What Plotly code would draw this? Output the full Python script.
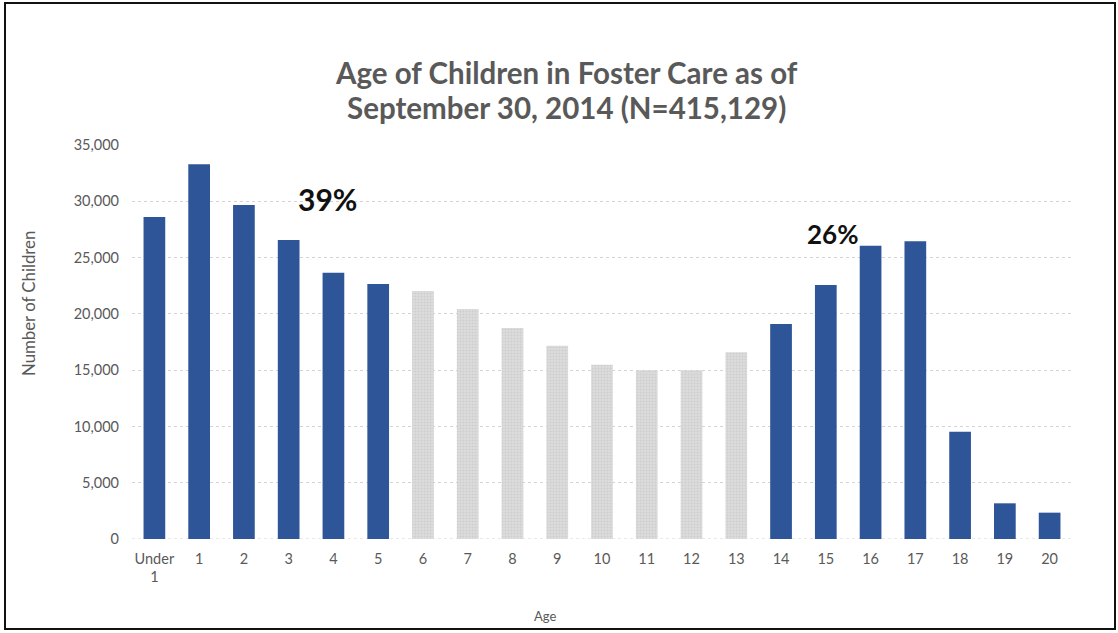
import plotly.graph_objects as go

# Children in foster care by age, September 30, 2014
ages = ["Under<br>1", "1", "2", "3", "4", "5", "6", "7", "8", "9", "10",
        "11", "12", "13", "14", "15", "16", "17", "18", "19", "20"]
children = [28600, 33300, 29660, 26550, 23650, 22650, 22030, 20430, 18740,
            17170, 15480, 14980, 14980, 16580, 19090, 22560, 26050, 26440,
            9530, 3170, 2340]
# highlighted age groups (0-5 and 14-20)
highlight = [True] * 6 + [False] * 8 + [True] * 7

y_ticks = [0, 5000, 10000, 15000, 20000, 25000, 30000, 35000]

title_lines = ["Age of Children in Foster Care as of",
               "September 30, 2014 (N=415,129)"]

BLUE = "#2E5597"
GRAY_BG = "#dcdcdc"
GRAY_DOT = "#bdbdbd"
TEXT = "#595959"
FONT = "Lato"

W, H = 1118, 633
L, R, T, B = 132, 46, 145, 94
PW, PH = W - L - R, H - T - B


def px_to_paper(px, py):
    """Convert page pixel position to plot-area paper coordinates."""
    return (px - L) / PW, (H - B - py) / PH


x_idx = list(range(len(ages)))
hi_x = [i for i in x_idx if highlight[i]]
lo_x = [i for i in x_idx if not highlight[i]]

fig = go.Figure()
fig.add_trace(go.Bar(
    x=hi_x, y=[children[i] for i in hi_x],
    marker=dict(color=BLUE, line=dict(width=0)),
    width=0.485, showlegend=False,
))
fig.add_trace(go.Bar(
    x=lo_x, y=[children[i] for i in lo_x],
    marker=dict(color=GRAY_BG, line=dict(width=0),
                pattern=dict(shape=".", fgcolor=GRAY_DOT, bgcolor=GRAY_BG,
                             size=3, solidity=0.35)),
    width=0.485, showlegend=False,
))


def label(text, px, py, size, color=TEXT, bold=False, angle=0):
    x, y = px_to_paper(px, py)
    return dict(text=text, x=x, y=y, xref="paper", yref="paper",
                xanchor="center", yanchor="middle", showarrow=False,
                textangle=angle,
                font=dict(family=FONT, size=size, color=color,
                          weight="bold" if bold else "normal"))


annotations = [
    label(title_lines[0], 566, 72, 29.5, bold=True),
    label(title_lines[1], 566, 107, 29.5, bold=True),
    label("39%", 327, 199, 30, color="#111111", bold=True),
    label("26%", 832, 234, 26, color="#111111", bold=True),
    label("Number of Children", 28, 304, 16.8, angle=-90),
    label("Age", 545, 616, 13),
]

fx0, fy0 = px_to_paper(5, 629)
fx1, fy1 = px_to_paper(1115, 3)

fig.update_layout(
    width=W, height=H,
    margin=dict(l=L, r=R, t=T, b=B),
    paper_bgcolor="white", plot_bgcolor="white",
    barmode="overlay",
    font=dict(family=FONT, color=TEXT, size=14.5),
    xaxis=dict(
        tickmode="array", tickvals=x_idx, ticktext=ages,
        range=[-0.5, len(ages) - 0.5],
        showgrid=False, zeroline=False, showline=False, ticks="",
        ticklabelstandoff=9,
        tickfont=dict(size=14.5, color=TEXT),
    ),
    yaxis=dict(
        range=[0, 35000], tickvals=y_ticks, tickformat=",",
        showgrid=True, gridcolor="#d4d4d4", griddash="dot", gridwidth=1,
        zeroline=False, showline=False, ticks="",
        ticklabelstandoff=12,
        tickfont=dict(size=14.5, color=TEXT),
    ),
    shapes=[
        # zero baseline, dotted like the gridlines
        dict(type="line", xref="paper", yref="y", x0=0, x1=1, y0=0, y1=0,
             line=dict(color="#d4d4d4", width=1, dash="dot"), layer="below"),
        # outer frame
        dict(type="rect", xref="paper", yref="paper",
             x0=fx0, x1=fx1, y0=fy0, y1=fy1,
             line=dict(color="#111111", width=2)),
    ],
    annotations=annotations,
)

fig.write_html("out.html")
